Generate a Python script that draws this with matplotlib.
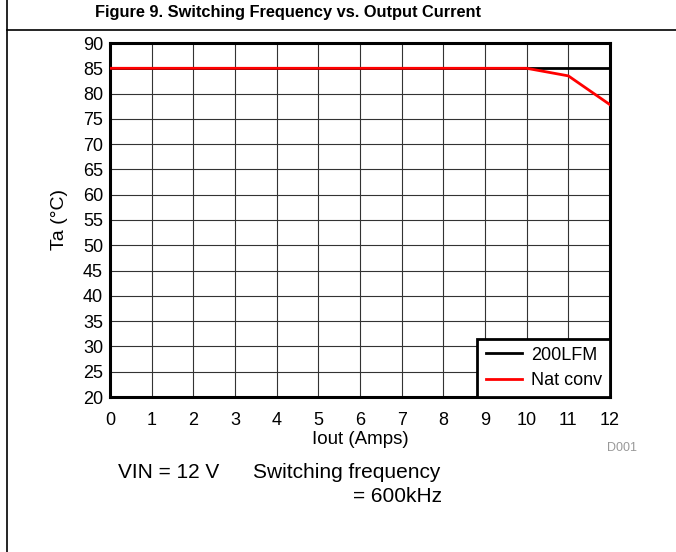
import matplotlib.pyplot as plt
from matplotlib.lines import Line2D
import numpy as np

plt.rcParams["font.family"] = ["Liberation Sans", "DejaVu Sans"]

iout = [0, 1, 2, 3, 4, 5, 6, 7, 8, 9, 10, 11, 12]
ta_200lfm = [85, 85, 85, 85, 85, 85, 85, 85, 85, 85, 85, 85, 85]
ta_natconv = [85, 85, 85, 85, 85, 85, 85, 85, 85, 85, 85, 83.5, 77.8]
x_ticks = np.arange(0, 13, 1)
y_ticks = np.arange(20, 95, 5)

W, H = 676, 552
fig = plt.figure(figsize=(W / 100, H / 100), dpi=100)


def fx(px):
    return px / W


def fy(py):
    return 1 - py / H


# frame: left rule and header rule
frame = dict(transform=fig.transFigure, color="black", lw=1.2)
fig.lines.append(Line2D([fx(7), fx(7)], [1, 0], **frame))
fig.lines.append(Line2D([fx(7), 1], [fy(30), fy(30)], **frame))
fig.text(fx(288), fy(12), "Figure 9. Switching Frequency vs. Output Current",
         ha="center", va="center", fontsize=11.8, fontweight="bold")

ax = fig.add_axes([fx(110), fy(397), fx(610) - fx(110), (397 - 43) / H])
ax.plot(iout, ta_200lfm, color="black", lw=2, label="200LFM", zorder=3)
ax.plot(iout, ta_natconv, color="red", lw=2, label="Nat conv", zorder=4)

ax.set_xlim(0, 12)
ax.set_ylim(20, 90)
ax.set_xticks(x_ticks)
ax.set_yticks(y_ticks)
ax.tick_params(length=0, labelsize=13)
ax.tick_params(axis="x", pad=11)
ax.tick_params(axis="y", pad=5)
ax.grid(True, color="#333333", lw=0.8)
for s in ax.spines.values():
    s.set_linewidth(2.2)

ax.set_xlabel("Iout (Amps)", fontsize=13.5, labelpad=1)
ax.set_ylabel("Ta (°C)", fontsize=14, labelpad=11)

leg = ax.legend(loc="lower right", fontsize=13, frameon=True, fancybox=False,
                borderaxespad=0, handlelength=2.0, handletextpad=0.5,
                borderpad=0.45, labelspacing=0.45)
leg.get_frame().set_edgecolor("black")
leg.get_frame().set_linewidth(2)
leg.get_frame().set_alpha(1)

fig.text(fx(637), fy(448), "D001", ha="right", va="center", fontsize=9,
         color="#999999")
fig.text(fx(118), fy(472), "VIN = 12 V", ha="left", va="center", fontsize=15)
fig.text(fx(253), fy(472), "Switching frequency", ha="left", va="center",
         fontsize=15)
fig.text(fx(442), fy(496), "= 600kHz", ha="right", va="center", fontsize=15)

fig.savefig("out.png", dpi=100)
